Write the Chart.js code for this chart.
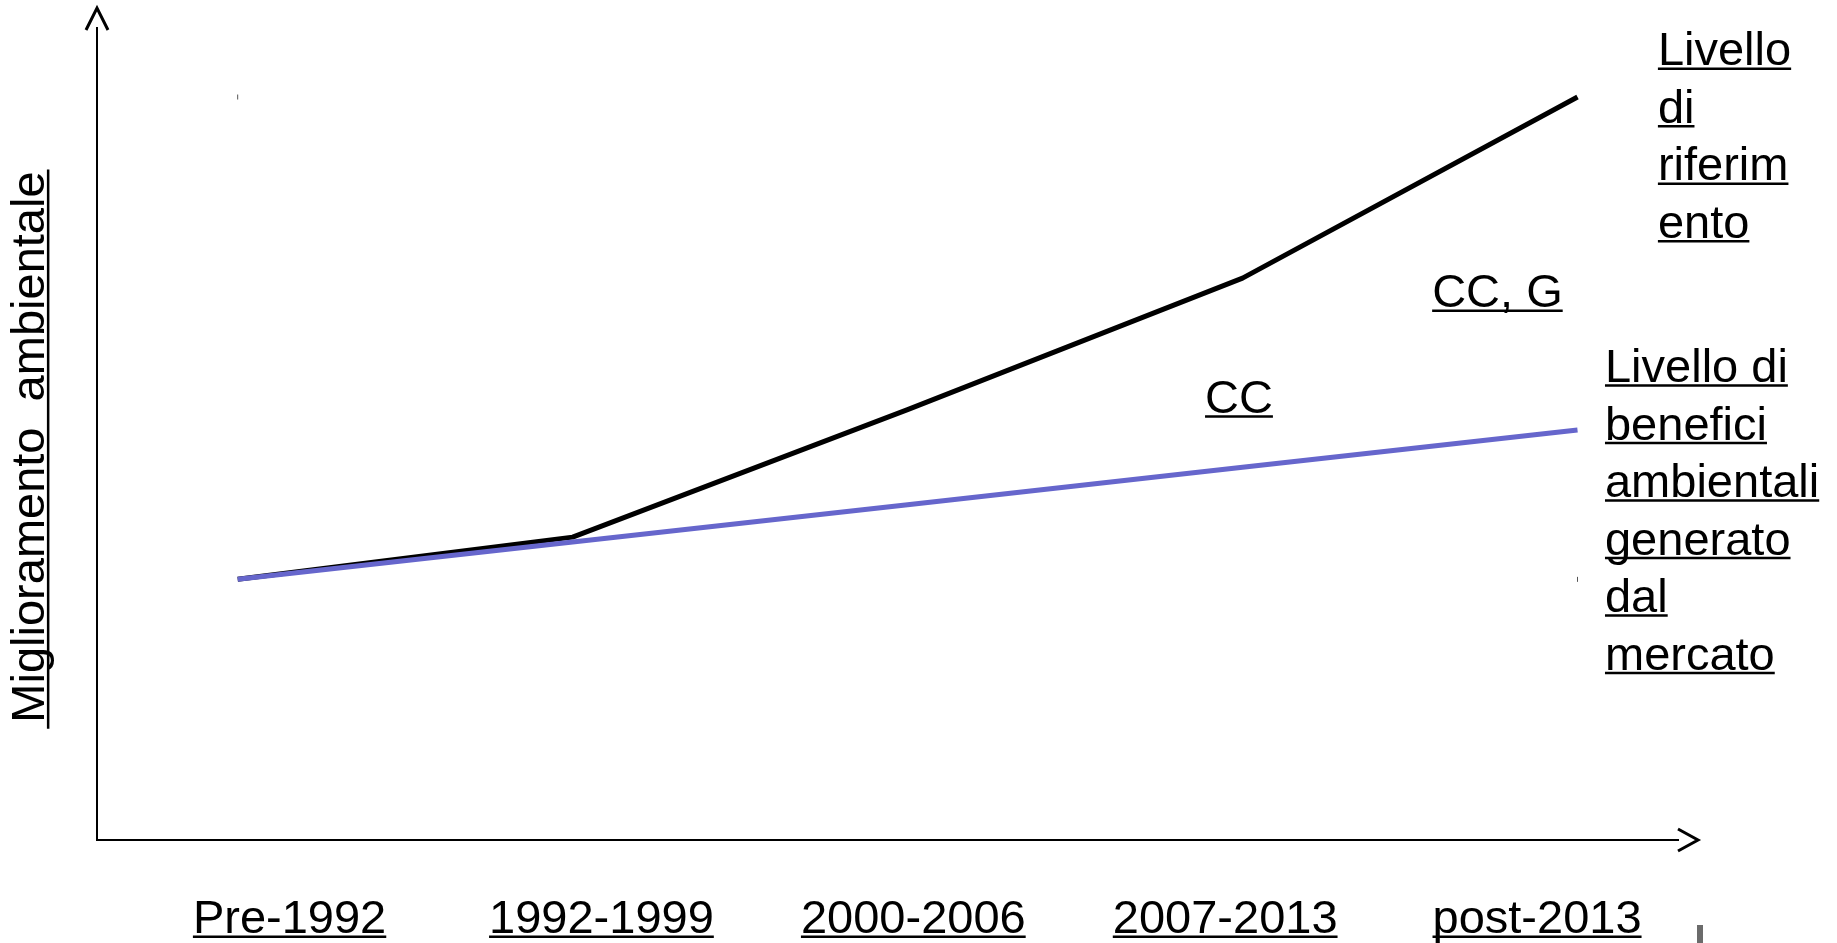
<!DOCTYPE html>
<html>
<head>
<meta charset="utf-8">
<script src="https://cdn.jsdelivr.net/npm/chart.js@4/dist/chart.umd.min.js"></script>
<style>
html,body{margin:0;padding:0;background:#fff;overflow:hidden}
#wrap{width:1837px;height:943px;position:relative}
</style>
</head>
<body>
<div id="wrap"><canvas id="c" width="1837" height="943"></canvas></div>
<script>
// ---- data ----
const categories = ['Pre-1992', '1992-1999', '2000-2006', '2007-2013', 'post-2013'];
const riferimento = [32.1, 37.3, 53.0, 69.2, 91.5];   // Livello di riferimento (black)
const mercato = [32.1, 36.7, 41.3, 45.9, 50.5];       // Livello di benefici ambientali generato dal mercato (blue)
const yTitle = 'Miglioramento  ambientale';
const labelRiferimento = ['Livello', 'di', 'riferim', 'ento'];
const labelMercato = ['Livello di', 'benefici', 'ambientali', 'generato', 'dal', 'mercato'];
const gapLabelA = ['CC'];
const gapLabelB = ['CC, G'];

// ---- styles / layout ----
const FONT = '"Liberation Sans", Arial, sans-serif';
const FS = 47;
const LINE_GAP = 57.5;
const TITLE_PAD = '  '; // trailing spacing so the rotated title sits slightly lower, as in the original
const notes = [
  { lines: gapLabelA, x: 2.888, y: 52.6 },
  { lines: gapLabelB, x: 3.566, y: 65.6 },
  { lines: labelRiferimento, x: 4.240, y: 95.4 },
  { lines: labelMercato, x: 4.082, y: 56.4 }
];

function underline(ctx, x1, x2, y) {
  ctx.save();
  ctx.strokeStyle = '#000';
  ctx.lineWidth = 2.5;
  ctx.beginPath();
  ctx.moveTo(x1, y);
  ctx.lineTo(x2, y);
  ctx.stroke();
  ctx.restore();
}

const decorPlugin = {
  id: 'decor',
  afterDraw(chart) {
    const ctx = chart.ctx;
    const ca = chart.chartArea;
    const xs = chart.scales.x, ys = chart.scales.y, xl = chart.scales.xl;
    const font = FS + 'px ' + FONT;
    ctx.save();
    ctx.font = font;

    // distance from 'middle' baseline to alphabetic baseline
    ctx.textBaseline = 'middle';
    const midToBase = ctx.measureText('x').actualBoundingBoxDescent;

    // underline x tick labels
    const lh = FS * 1.2;
    const pad = xl.options.ticks.padding;
    const baseY = xl.top + pad + lh / 2 + midToBase;
    xl.ticks.forEach((t) => {
      const px = xl.getPixelForValue(t.value);
      const w = ctx.measureText(categories[t.value]).width;
      underline(ctx, px - w / 2, px + w / 2, baseY + 3.5);
    });

    // underline y title (rotated)
    const tp = ys.options.title.padding;
    const titleX = ys.left + lh / 2 + (typeof tp === 'object' ? tp.top : tp);
    const fullW = ctx.measureText(yTitle + TITLE_PAD).width;
    const tw = ctx.measureText(yTitle).width;
    const cy = (ys.top + ys.bottom) / 2;
    const startY = cy + fullW / 2; // text runs bottom -> top
    ctx.save();
    ctx.strokeStyle = '#000';
    ctx.lineWidth = 2.5;
    ctx.beginPath();
    ctx.moveTo(titleX + midToBase + 4.5, startY + 6);
    ctx.lineTo(titleX + midToBase + 4.5, startY - tw - 2);
    ctx.stroke();
    ctx.restore();

    // annotations
    ctx.textBaseline = 'alphabetic';
    ctx.textAlign = 'left';
    ctx.fillStyle = '#000';
    notes.forEach((n) => {
      const px = xs.getPixelForValue(n.x);
      const py = ys.getPixelForValue(n.y);
      n.lines.forEach((s, i) => {
        const yy = py + i * LINE_GAP;
        ctx.fillText(s, px, yy);
        underline(ctx, px, px + ctx.measureText(s).width, yy + 3.5);
      });
    });

    // arrow heads
    ctx.strokeStyle = '#000';
    ctx.lineWidth = 3;
    ctx.lineJoin = 'miter';
    ctx.beginPath();
    ctx.moveTo(ca.left - 11, ca.top + 2);
    ctx.lineTo(ca.left, ca.top - 20);
    ctx.lineTo(ca.left + 11, ca.top + 2);
    ctx.stroke();
    ctx.beginPath();
    ctx.moveTo(ca.right, ca.bottom - 11);
    ctx.lineTo(ca.right + 20, ca.bottom);
    ctx.lineTo(ca.right, ca.bottom + 11);
    ctx.stroke();

    // small grey bar bottom right
    ctx.fillStyle = '#6b6b6b';
    ctx.fillRect(ca.right + 19, ca.bottom + 85, 6, 20);
    ctx.restore();
  }
};

new Chart(document.getElementById('c'), {
  type: 'line',
  data: {
    datasets: [
      {
        label: 'Livello di benefici ambientali generato dal mercato',
        data: mercato.map((v, i) => ({ x: i, y: v })),
        borderColor: '#6666cc',
        borderWidth: 5,
        pointRadius: 0,
        tension: 0,
        borderJoinStyle: 'round',
        xAxisID: 'x', yAxisID: 'y'
      },
      {
        label: 'Livello di riferimento',
        data: riferimento.map((v, i) => ({ x: i, y: v })),
        borderColor: '#000000',
        borderWidth: 5,
        pointRadius: 0,
        tension: 0,
        borderJoinStyle: 'round',
        xAxisID: 'x', yAxisID: 'y'
      },
      {
        label: 'marks',
        data: [
          { x: 0, y: riferimento[riferimento.length - 1] },
          { x: categories.length - 1, y: riferimento[0] }
        ],
        showLine: false,
        pointStyle: 'line',
        rotation: 90,
        pointRadius: 2.5,
        pointBorderWidth: 1,
        pointBorderColor: '#555',
        borderColor: '#555',
        xAxisID: 'x', yAxisID: 'y'
      }
    ]
  },
  options: {
    responsive: false,
    devicePixelRatio: 1,
    animation: false,
    layout: { padding: { top: 28, right: 159, bottom: 0, left: 0 } },
    plugins: { legend: { display: false }, tooltip: { enabled: false } },
    scales: {
      x: { type: 'linear', display: false, min: -0.42, max: 4.30 },
      xl: {
        type: 'linear',
        position: 'bottom',
        min: -0.6175,
        max: 4.452,
        afterBuildTicks: (s) => { s.ticks = categories.map((c, i) => ({ value: i })); },
        ticks: {
          callback: (v) => categories[v],
          color: '#000',
          font: { family: FONT, size: FS },
          padding: 52,
          maxRotation: 0,
          autoSkip: false
        },
        grid: { display: false, drawTicks: false },
        border: { display: true, color: '#000', width: 2 },
        afterFit: (s) => { s.height = 103; }
      },
      y: {
        type: 'linear',
        min: 0,
        max: 100,
        ticks: { display: false },
        grid: { display: false, drawTicks: false },
        border: { display: true, color: '#000', width: 2 },
        title: {
          display: true,
          text: yTitle + TITLE_PAD,
          color: '#000',
          font: { family: FONT, size: FS },
          padding: { top: 2.5, bottom: 0 }
        },
        afterFit: (s) => { s.width = 97; }
      }
    }
  },
  plugins: [decorPlugin]
});
</script>
</body>
</html>
